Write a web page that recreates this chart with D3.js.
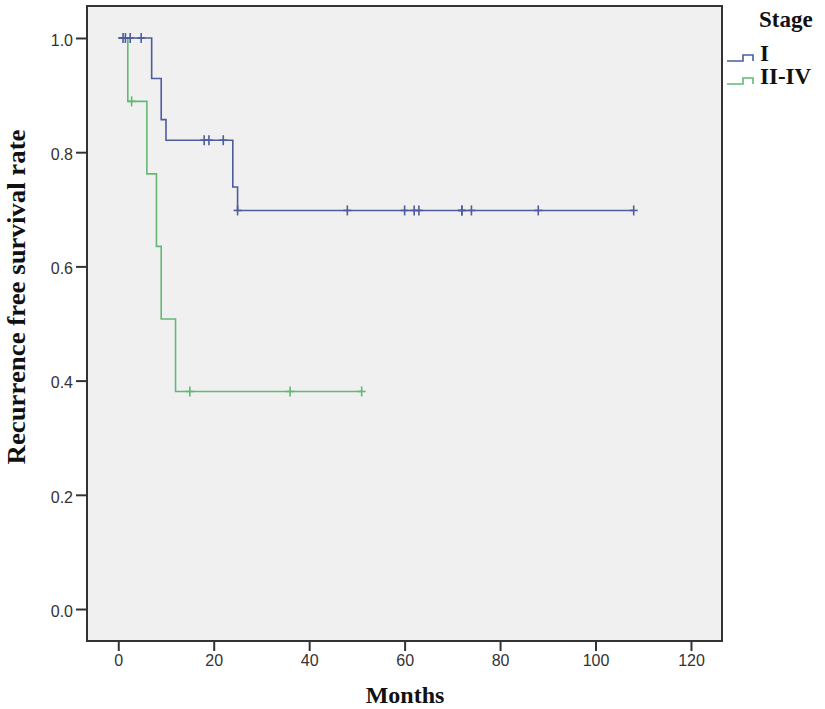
<!DOCTYPE html>
<html>
<head>
<meta charset="utf-8">
<script src="https://cdn.jsdelivr.net/npm/d3@7/dist/d3.min.js"></script>
<style>
  html, body { margin: 0; padding: 0; background: #ffffff; }
  svg { display: block; }
</style>
</head>
<body>
<svg id="chart" width="825" height="709"></svg>
<script>
// ---------------- data ----------------
const groupNames = ["I", "II-IV"];
const legendTitle = "Stage";
const xTitle = "Months";
const yTitle = "Recurrence free survival rate";
const xTickValues = [0, 20, 40, 60, 80, 100, 120];
const yTickValues = [0.0, 0.2, 0.4, 0.6, 0.8, 1.0];

// Stage I : event times and survival after each event
const stageIEventMonths = [7, 9, 10, 24, 25];
const stageISurvival = [0.929, 0.857, 0.821, 0.739, 0.698];
const stageICensorMonths = [1, 1.5, 2.5, 4.8, 18, 19, 22, 25, 48, 60, 62, 63, 72, 72, 74, 88, 108];
const stageILastMonth = 108;

// Stage II-IV
const stageIIEventMonths = [2, 6, 8, 9, 12];
const stageIISurvival = [0.889, 0.762, 0.635, 0.508, 0.381];
const stageIICensorMonths = [2.8, 15, 36, 51];
const stageIILastMonth = 51;

const colors = ["#4d5c9c", "#62b874"];

// ---------------- layout ----------------
const svg = d3.select("#chart");
const frame = { left: 87, right: 722, top: 6, bottom: 641 };

const x = d3.scaleLinear().domain([-6.55, 126.5]).range([frame.left, frame.right]);
const y = d3.scaleLinear().domain([-0.056, 1.056]).range([frame.bottom, frame.top]);

// plot background
svg.append("rect")
  .attr("x", frame.left).attr("y", frame.top)
  .attr("width", frame.right - frame.left).attr("height", frame.bottom - frame.top)
  .attr("fill", "#f0f0f0");

function stepPoints(eventMonths, survival, lastMonth) {
  const pts = [[0, 1]];
  let s = 1;
  eventMonths.forEach((t, i) => {
    pts.push([t, s]);
    s = survival[i];
    pts.push([t, s]);
  });
  pts.push([lastMonth, s]);
  return pts;
}
function survAt(eventMonths, survival, t) {
  let s = 1;
  eventMonths.forEach((e, i) => { if (e <= t) s = survival[i]; });
  return s;
}

const groups = [
  { ev: stageIEventMonths, sv: stageISurvival, cens: stageICensorMonths, last: stageILastMonth, color: colors[0] },
  { ev: stageIIEventMonths, sv: stageIISurvival, cens: stageIICensorMonths, last: stageIILastMonth, color: colors[1] }
];

const line = d3.line().x(d => x(d[0])).y(d => y(d[1]));

[groups[1], groups[0]].forEach(g => {
  const pts = stepPoints(g.ev, g.sv, g.last);
  svg.append("path")
    .attr("d", line(pts))
    .attr("fill", "none")
    .attr("stroke", g.color)
    .attr("stroke-width", 1.6);
  const cg = svg.append("g");
  g.cens.forEach(t => {
    const s = survAt(g.ev, g.sv, t);
    cg.append("line")
      .attr("x1", x(t)).attr("x2", x(t))
      .attr("y1", y(s) - 5).attr("y2", y(s) + 5)
      .attr("stroke", g.color).attr("stroke-width", 1.6);
    cg.append("line")
      .attr("x1", x(t) - 4).attr("x2", x(t) + 4)
      .attr("y1", y(s)).attr("y2", y(s))
      .attr("stroke", g.color).attr("stroke-width", 1.6);
  });
});

// frame
svg.append("rect")
  .attr("x", frame.left).attr("y", frame.top)
  .attr("width", frame.right - frame.left).attr("height", frame.bottom - frame.top)
  .attr("fill", "none").attr("stroke", "#333").attr("stroke-width", 2);

// axes
const xAxis = d3.axisBottom(x).tickValues(xTickValues).tickSize(10).tickPadding(4).tickFormat(d3.format("d"));
const yAxis = d3.axisLeft(y).tickValues(yTickValues).tickSize(11).tickPadding(3).tickFormat(d3.format(".1f"));

const gx = svg.append("g").attr("transform", `translate(0,${frame.bottom})`).call(xAxis);
const gy = svg.append("g").attr("transform", `translate(${frame.left},0)`).call(yAxis);
[gx, gy].forEach(g => {
  g.select(".domain").remove();
  g.selectAll(".tick line").attr("stroke", "#333").attr("stroke-width", 2);
  g.selectAll(".tick text")
    .attr("fill", "#333")
    .style("font-family", "'Liberation Sans', Arial, sans-serif")
    .style("font-size", "16px");
});
gy.selectAll(".tick text").attr("dy", "0.45em");

// axis titles
svg.append("text")
  .attr("x", 405).attr("y", 703)
  .attr("text-anchor", "middle")
  .style("font-family", "'Liberation Serif', 'Times New Roman', serif")
  .style("font-weight", "bold").style("font-size", "24px")
  .attr("fill", "#111")
  .text(xTitle);

svg.append("text")
  .attr("transform", "translate(25,297) rotate(-90)")
  .attr("text-anchor", "middle")
  .attr("textLength", 335)
  .attr("lengthAdjust", "spacingAndGlyphs")
  .style("font-family", "'Liberation Serif', 'Times New Roman', serif")
  .style("font-weight", "bold").style("font-size", "25px")
  .attr("fill", "#111")
  .text(yTitle);

// legend
const lg = svg.append("g");
lg.append("text")
  .attr("x", 759).attr("y", 27)
  .style("font-family", "'Liberation Serif', 'Times New Roman', serif")
  .style("font-weight", "bold").style("font-size", "23px")
  .attr("fill", "#111")
  .text(legendTitle);

const legendY = [61, 84];
groupNames.forEach((name, i) => {
  const by = legendY[i];
  lg.append("path")
    .attr("d", `M727,${by} H743 V${by - 6} H753 V${by}`)
    .attr("fill", "none").attr("stroke", colors[i]).attr("stroke-width", 1.6);
  lg.append("text")
    .attr("x", 760).attr("y", by)
    .style("font-family", "'Liberation Serif', 'Times New Roman', serif")
    .style("font-weight", "bold").style("font-size", "23px")
    .attr("fill", "#111")
    .text(name);
});
</script>
</body>
</html>
